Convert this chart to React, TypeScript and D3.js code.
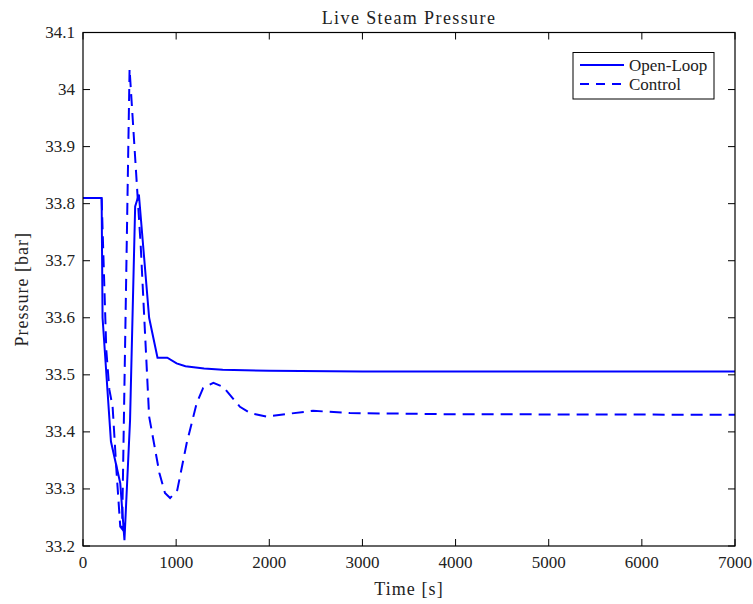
import React from "react";
import * as d3 from "d3";

const openLoopT = [0, 200, 210, 300, 400, 445, 505, 560, 600, 710, 800, 905, 1005, 1100, 1300, 1500, 2000, 3000, 7000];
const openLoopP = [33.81, 33.81, 33.6, 33.383, 33.31, 33.21, 33.42, 33.795, 33.816, 33.6, 33.53, 33.53, 33.52, 33.515, 33.511, 33.509, 33.507, 33.506, 33.506];

const controlT = [0, 200, 250, 283, 318, 360, 400, 420, 500, 620, 710, 820, 880, 935, 1012, 1113, 1220, 1290, 1400, 1505, 1685, 1795, 1970, 2470, 2865, 3940, 7000];
const controlP = [33.81, 33.81, 33.544, 33.474, 33.444, 33.33, 33.234, 33.23, 34.036, 33.725, 33.427, 33.328, 33.293, 33.284, 33.298, 33.38, 33.45, 33.477, 33.486, 33.479, 33.444, 33.433, 33.427, 33.437, 33.433, 33.431, 33.43];

const xTicks = [0, 1000, 2000, 3000, 4000, 5000, 6000, 7000];
const yTicks = [33.2, 33.3, 33.4, 33.5, 33.6, 33.7, 33.8, 33.9, 34, 34.1];

const seriesNames = ["Open-Loop", "Control"];

const W = 753, H = 604;
const left = 83, right = 735, top = 32.5, bottom = 546;
const font = "'Liberation Serif', 'DejaVu Serif', serif";

export default function App() {
  const x = d3.scaleLinear().domain([0, 7000]).range([left, right]);
  const y = d3.scaleLinear().domain([33.2, 34.1]).range([bottom, top]);
  const line = d3.line<[number, number]>().x(d => x(d[0])).y(d => y(d[1]));
  const ol = line(openLoopT.map((t, i) => [t, openLoopP[i]] as [number, number])) || "";
  const ct = line(controlT.map((t, i) => [t, controlP[i]] as [number, number])) || "";
  const tl = 7;
  return (
    <svg width={W} height={H} style={{ position: "absolute", left: 0, top: 0, background: "#fff" }}>
      <rect x={0} y={0} width={W} height={H} fill="#fff" />
      <defs>
        <clipPath id="plotclip">
          <rect x={left} y={top} width={right - left} height={bottom - top} />
        </clipPath>
      </defs>
      <g clipPath="url(#plotclip)">
        <path d={ol} fill="none" stroke="#0000ff" strokeWidth={2} strokeLinejoin="miter" />
        <path d={ct} fill="none" stroke="#0000ff" strokeWidth={2} strokeDasharray="12,7" />
      </g>
      <rect x={left} y={top} width={right - left} height={bottom - top} fill="none" stroke="#000" strokeWidth={1.2} />
      {xTicks.map(t => (
        <g key={"x" + t}>
          <line x1={x(t)} x2={x(t)} y1={bottom} y2={bottom - tl} stroke="#000" strokeWidth={1} />
          <line x1={x(t)} x2={x(t)} y1={top} y2={top + tl} stroke="#000" strokeWidth={1} />
          <text x={x(t)} y={bottom + 22} textAnchor="middle" fontFamily={font} fontSize={17} fill="#222">{t}</text>
        </g>
      ))}
      {yTicks.map(v => (
        <g key={"y" + v}>
          <line x1={left} x2={left + tl} y1={y(v)} y2={y(v)} stroke="#000" strokeWidth={1} />
          <line x1={right} x2={right - tl} y1={y(v)} y2={y(v)} stroke="#000" strokeWidth={1} />
          <text x={left - 8} y={y(v) + 5.5} textAnchor="end" fontFamily={font} fontSize={17} fill="#222">{String(v)}</text>
        </g>
      ))}
      <text x={(left + right) / 2} y={24} textAnchor="middle" fontFamily={font} fontSize={18} letterSpacing={1.4} fill="#222">Live Steam Pressure</text>
      <text x={(left + right) / 2} y={595} textAnchor="middle" fontFamily={font} fontSize={18} letterSpacing={1.1} fill="#222">Time [s]</text>
      <text transform={`translate(28, ${(top + bottom) / 2}) rotate(-90)`} textAnchor="middle" fontFamily={font} fontSize={18} letterSpacing={1} fill="#222">Pressure [bar]</text>
      <g>
        <rect x={573} y={52.5} width={141} height={46.5} fill="#fff" stroke="#000" strokeWidth={1} />
        <line x1={580} x2={624} y1={65} y2={65} stroke="#0000ff" strokeWidth={2} />
        <text x={629} y={70.5} fontFamily={font} fontSize={17} fill="#222">{seriesNames[0]}</text>
        <line x1={580} x2={624} y1={84} y2={84} stroke="#0000ff" strokeWidth={2} strokeDasharray="9,7" />
        <text x={629} y={89.5} fontFamily={font} fontSize={17} fill="#222">{seriesNames[1]}</text>
      </g>
    </svg>
  );
}
